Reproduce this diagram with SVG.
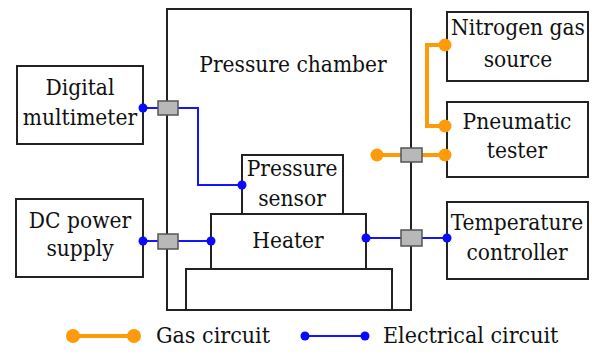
<svg xmlns="http://www.w3.org/2000/svg" width="592" height="356" viewBox="0 0 592 356">
<style>
.box{fill:#fff;stroke:#222;stroke-width:2}
.t{font-family:"DejaVu Serif Condensed","DejaVu Serif",serif;font-size:22.5px;fill:#111;text-anchor:middle}
.tl{font-family:"DejaVu Serif Condensed","DejaVu Serif",serif;font-size:23px;fill:#111}
.port{fill:#b8b8b8;stroke:#555;stroke-width:1.5}
.el{fill:none;stroke:#1414ff;stroke-width:2}
.gas{fill:none;stroke:#ff9a0a;stroke-width:4}
.ed{fill:#0a0aff}
.gd{fill:#ff9a0a}
</style>
<rect width="592" height="356" fill="#fff"/>
<g id="chamber">
<rect class="box" x="167" y="9" width="244" height="301"/>
<text class="t" x="293" y="72">Pressure chamber</text>
</g>
<g id="base"><rect class="box" x="186" y="269" width="206" height="41"/></g>
<g id="heater"><rect class="box" x="211" y="214" width="155" height="55"/><text class="t" x="288" y="248">Heater</text></g>
<g id="sensor"><rect class="box" x="242" y="155" width="101" height="59"/><text class="t" x="292" y="176">Pressure</text><text class="t" x="292" y="206">sensor</text></g>
<g id="multimeter"><rect class="box" x="17" y="66" width="126" height="78"/><text class="t" x="80" y="95">Digital</text><text class="t" x="80" y="125">multimeter</text></g>
<g id="dcpower"><rect class="box" x="16" y="199" width="127" height="78"/><text class="t" x="80" y="228">DC power</text><text class="t" x="80" y="256">supply</text></g>
<g id="nitrogen"><rect class="box" x="447" y="12" width="141" height="69"/><text class="t" x="518" y="35">Nitrogen gas</text><text class="t" x="518" y="67">source</text></g>
<g id="pneumatic"><rect class="box" x="447" y="102" width="141" height="75"/><text class="t" x="517" y="129">Pneumatic</text><text class="t" x="517" y="158">tester</text></g>
<g id="tempctrl"><rect class="box" x="447" y="202" width="141" height="77"/><text class="t" x="517" y="230">Temperature</text><text class="t" x="517" y="260">controller</text></g>
<g id="connectors">
<polyline class="el" points="143,108 198,108 198,185 242,185"/>
<line class="el" x1="143" y1="241" x2="211" y2="241"/>
<line class="el" x1="366" y1="238" x2="447" y2="238"/>
<polyline class="gas" points="445,45 427,45 427,126 445,126"/>
<line class="gas" x1="377" y1="155" x2="445" y2="155"/>
<rect class="port" x="158" y="101" width="20" height="14"/>
<rect class="port" x="158" y="234" width="20" height="15"/>
<rect class="port" x="401" y="230" width="21" height="16"/>
<rect class="port" x="401" y="148" width="21" height="14"/>
<circle class="ed" cx="143" cy="108" r="4.5"/>
<circle class="ed" cx="242" cy="185" r="4.5"/>
<circle class="ed" cx="143" cy="241" r="4.5"/>
<circle class="ed" cx="211" cy="241" r="4.5"/>
<circle class="ed" cx="366" cy="238" r="4.5"/>
<circle class="ed" cx="447" cy="238" r="4.5"/>
<circle class="gd" cx="445" cy="45" r="6.5"/>
<circle class="gd" cx="445" cy="126" r="6.5"/>
<circle class="gd" cx="377" cy="155" r="6.5"/>
<circle class="gd" cx="445" cy="155" r="6.5"/>
</g>
<g id="legend">
<line class="gas" x1="73" y1="336" x2="134" y2="336"/>
<circle class="gd" cx="73" cy="336" r="7"/>
<circle class="gd" cx="134" cy="336" r="7"/>
<text class="tl" x="156" y="343">Gas circuit</text>
<line class="el" x1="305" y1="336" x2="365" y2="336"/>
<circle class="ed" cx="305" cy="336" r="4.5"/>
<circle class="ed" cx="365" cy="336" r="4.5"/>
<text class="tl" x="383" y="343">Electrical circuit</text>
</g>
</svg>
